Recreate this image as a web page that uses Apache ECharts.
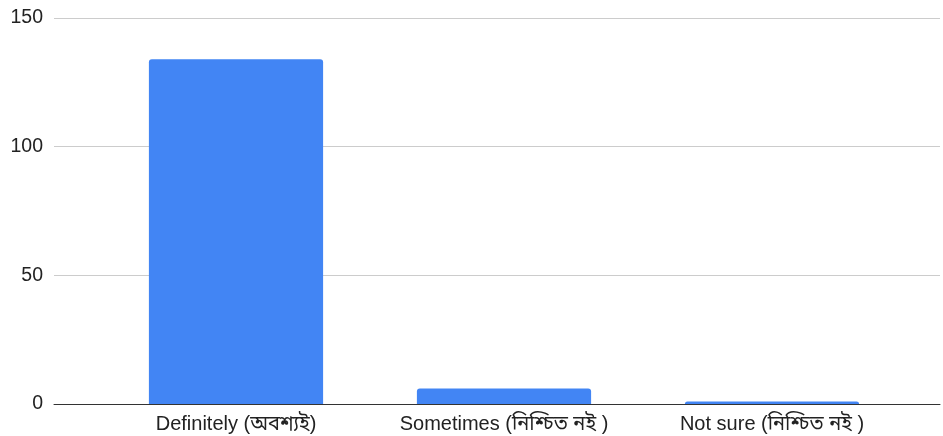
<!DOCTYPE html>
<html>
<head>
<meta charset="utf-8">
<script src="https://cdn.jsdelivr.net/npm/echarts@6/dist/echarts.min.js"></script>
<style>html,body{margin:0;padding:0;background:#fff}#c{width:943px;height:436px}</style>
</head>
<body>
<div id="c"></div>
<script>
const categories = ["Definitely (অবশ্যই)", "Sometimes (নিশ্চিত নই )", "Not sure (নিশ্চিত নই )"];
const values = [134, 6, 1];
const yTicks = [0, 50, 100, 150];

const font = '"Liberation Sans", Arial, "Noto Sans Bengali", "Noto Sans", sans-serif';
const chart = echarts.init(document.getElementById('c'));
chart.setOption({
  animation: false,
  grid: [
    {left: 54, right: 3, top: 18, bottom: 32},
    {left: 102, right: 37, top: 18, bottom: 32}
  ],
  xAxis: [
    {gridIndex: 0, type: 'value', min: 0, max: 1, axisLine: {show: true, onZero: false, lineStyle: {color: '#333', width: 1}},
     axisTick: {show: false}, axisLabel: {show: false}, splitLine: {show: false}},
    {gridIndex: 1, type: 'category', data: categories, axisLine: {show: false}, axisTick: {show: false},
     axisLabel: {color: '#222', fontSize: 20, fontFamily: font, margin: 10, interval: 0}}
  ],
  yAxis: [
    {gridIndex: 0, type: 'value', min: yTicks[0], max: yTicks[yTicks.length-1], interval: 50,
     axisLine: {show: false}, axisTick: {show: false},
     axisLabel: {color: '#222', fontSize: 19.5, fontFamily: font, margin: 11},
     splitLine: {lineStyle: {color: '#cccccc', width: 1}}},
    {gridIndex: 1, type: 'value', min: yTicks[0], max: yTicks[yTicks.length-1], interval: 50,
     axisLine: {show: false}, axisTick: {show: false}, axisLabel: {show: false}, splitLine: {show: false}}
  ],
  series: [{
    type: 'bar', xAxisIndex: 1, yAxisIndex: 1, data: values, barWidth: '65%',
    itemStyle: {color: '#4285F4', borderRadius: [3, 3, 0, 0]}
  }]
});
</script>
</body>
</html>
